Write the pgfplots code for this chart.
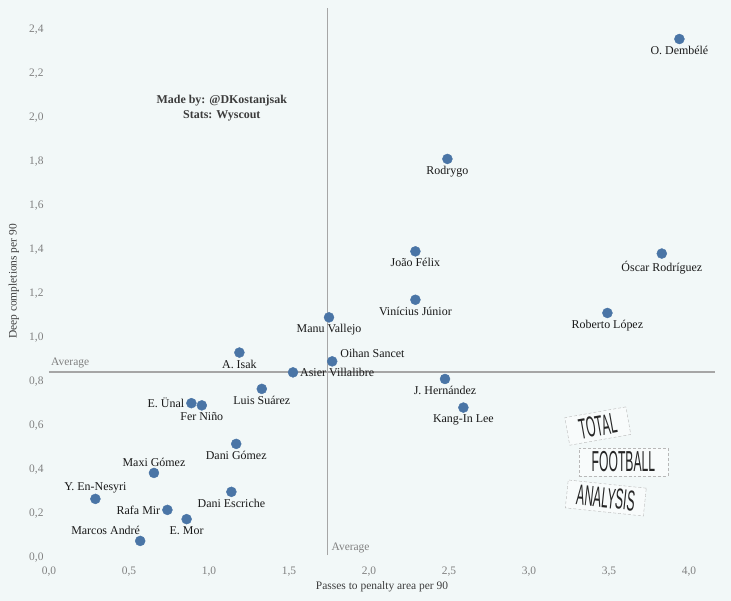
\documentclass[border=0pt]{standalone}
\usepackage{pgfplots}
\pgfplotsset{compat=1.18}
\usepackage{fontspec}
\setmainfont{Liberation Serif}
\newfontfamily\logofont[FakeStretch=0.42]{Liberation Sans}
\definecolor{bg}{RGB}{242,248,248}
\definecolor{dot}{RGB}{74,117,166}
\definecolor{avg}{RGB}{166,166,166}
\definecolor{tickc}{RGB}{128,128,128}
\definecolor{lab}{RGB}{25,25,25}
\definecolor{axl}{RGB}{60,60,60}

\pgfplotsset{
  player/.style={only marks, mark=*, mark size=5bp, mark options={fill=dot, draw=dot},
    point meta=explicit symbolic, nodes near coords,
    every node near coord/.append style={inner sep=0pt, font=\fontsize{12}{14}\selectfont, text=lab}},
}
\tikzset{
  logo/.style={draw=avg!80, densely dashed, line width=0.4bp, fill=white!50!bg, minimum height=28bp,
    inner ysep=1bp, font=\logofont\fontsize{29}{29}\selectfont, text=black!85},
}

\begin{document}
\begin{tikzpicture}
\useasboundingbox (-49bp,-46bp) rectangle (682bp,555bp);
\fill[bg] (-49bp,-46bp) rectangle (682bp,555bp);
\begin{axis}[
  at={(0,0)}, anchor=south west,
  scale only axis, width=666bp, height=547bp,
  xmin=0, xmax=4.1625, ymin=0, ymax=2.486,
  axis line style={draw=none},
  major tick length=0pt,
  xtick={0,0.5,1,1.5,2,2.5,3,3.5,4},
  ytick={0,0.2,0.4,0.6,0.8,1,1.2,1.4,1.6,1.8,2,2.2,2.4},
  tick label style={font=\fontsize{11.5}{13}\selectfont, text=tickc},
  xticklabel style={yshift=-8bp},
  yticklabel style={xshift=-2bp, yshift=-3bp},
  xlabel={Passes to penalty area per 90},
  ylabel={Deep completions per 90},
  xlabel style={at={(axis description cs:0.5,-0.0585)}, anchor=center, font=\fontsize{11.5}{13}\selectfont, text=axl},
  ylabel style={at={(axis description cs:-0.0526,0.5)}, anchor=center, font=\fontsize{11.5}{13}\selectfont, text=axl},
  clip=false,
  /pgf/number format/.cd, use comma, fixed, fixed zerofill, precision=1, assume math mode=true
]
\addplot[avg, line width=1.5bp] coordinates {(0,0.832) (4.1625,0.832)};
\addplot[avg, line width=1.5bp] coordinates {(1.74,0) (1.74,2.486)};
% labels below
\addplot[player, every node near coord/.append style={anchor=north, yshift=-7bp}] coordinates {
(3.94,2.345) [O. Dembélé]
(2.49,1.80) [Rodrygo]
(2.29,1.38) [João Félix]
(3.83,1.37) [Óscar Rodríguez]
(2.29,1.16) [Vinícius Júnior]
(3.49,1.10) [Roberto López]
(1.75,1.08) [Manu Vallejo]
(1.19,0.92) [A. Isak]
(1.33,0.755) [Luis Suárez]
(0.955,0.68) [Fer Niño]
(1.17,0.505) [Dani Gómez]
(1.14,0.287) [Dani Escriche]
(0.86,0.163) [E. Mor]
(2.475,0.80) [J. Hernández]
(2.59,0.67) [Kang-In Lee]
};
% label above right
\addplot[player, every node near coord/.append style={anchor=south west, xshift=8bp, yshift=4bp}] coordinates {
(1.77,0.88) [Oihan Sancet]
};
% label right
\addplot[player, every node near coord/.append style={anchor=west, xshift=7bp}] coordinates {
(1.525,0.83) [Asier Villalibre]
};
% labels left
\addplot[player, every node near coord/.append style={anchor=east, xshift=-7bp}] coordinates {
(0.89,0.69) [E. Ünal]
(0.74,0.205) [Rafa Mir]
};
% labels above
\addplot[player, every node near coord/.append style={anchor=south, yshift=6bp}] coordinates {
(0.656,0.373) [Maxi Gómez]
(0.29,0.255) [Y. En-Nesyri]
};
% label above left
\addplot[player, every node near coord/.append style={anchor=south east, yshift=6bp}] coordinates {
(0.57,0.064) [Marcos André]
};
\node[anchor=south west, inner sep=0pt, text=tickc, font=\fontsize{11.5}{13}\selectfont, xshift=2bp, yshift=4bp] at (axis cs:0,0.832) {Average};
\node[anchor=south west, inner sep=0pt, text=tickc, font=\fontsize{11.5}{13}\selectfont, xshift=4bp, yshift=2bp] at (axis cs:1.74,0) {Average};
\node[align=center, font=\bfseries\fontsize{12}{16}\selectfont, text=axl, yshift=-2bp] at (axis cs:1.08,2.04) {Made by: @DKostanjsak\\Stats: Wyscout};
\node[logo, rotate=10, inner xsep=12bp] at (axis cs:3.43,0.586) {TOTAL};
\node[logo, rotate=0, inner xsep=13bp] at (axis cs:3.59,0.423) {FOOTBALL};
\node[logo, rotate=-6, inner xsep=10bp] at (axis cs:3.48,0.259) {ANALYSIS};
\end{axis}
\end{tikzpicture}
\end{document}
